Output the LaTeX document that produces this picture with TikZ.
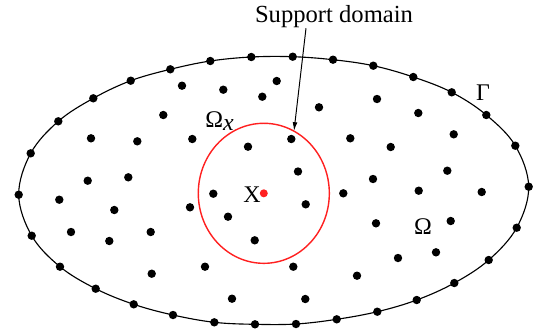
\documentclass[tikz,border=0pt]{standalone}
\usepackage{fontspec}
\setmainfont{Liberation Serif}
\usetikzlibrary{arrows.meta,calc}
\definecolor{Ink}{HTML}{000000}
\definecolor{DomainRed}{HTML}{FF2020}

\begin{document}
\begin{tikzpicture}[x=0.025cm,y=-0.025cm,every node/.style={font=\fontsize{17}{19}\selectfont,text=Ink,inner sep=0pt},arrow/.style={-{Latex[length=2.2mm,width=1.2mm]},line width=0.7pt,draw=Ink},boundary/.style={line width=0.8pt,draw=Ink},support/.style={line width=1pt,draw=DomainRed}]
\useasboundingbox (0,0) rectangle (536,331);
\fill[white] (0,0) rectangle (536,331);

% global domain and its boundary nodes
\draw[boundary] plot[smooth cycle,tension=0.6] coordinates {(18.7,194.7) (30.7,153.3) (58.3,121.3) (93.3,98.3) (130.7,80.7) (170.3,69.3) (210.3,61) (251.3,57) (292.7,56.7) (333,59.7) (373.3,65.7) (413.3,77) (451.7,92.3) (486.3,115) (515.3,145.7) (528.7,186.7) (516.7,227.7) (488.7,260) (454.3,283) (416.7,300) (377.3,311.7) (336.7,319.3) (296,324) (255,324.3) (214.3,322.3) (173,315) (133.7,304.3) (95.7,288.7) (60,266.7) (31.7,235.7)};
\foreach \p in {(18.7,194.7),(30.7,153.3),(58.3,121.3),(93.3,98.3),(130.7,80.7),(170.3,69.3),(210.3,61),(251.3,57),(292.7,56.7),(333,59.7),(373.3,65.7),(413.3,77),(451.7,92.3),(486.3,115),(515.3,145.7),(528.7,186.7),(516.7,227.7),(488.7,260),(454.3,283),(416.7,300),(377.3,311.7),(336.7,319.3),(296,324),(255,324.3),(214.3,322.3),(173,315),(133.7,304.3),(95.7,288.7),(60,266.7),(31.7,235.7)}
  \fill[Ink] \p circle (0.105cm);

% field nodes
\foreach \p in {(182,85.7),(223.3,89.7),(262.3,96.7),(276.7,81),(319,107.3),(377,99),(418.3,113),(453.7,134.3),(350.3,138.3),(390.7,147),(291.3,139),(163.3,115),(91,138.3),(137.3,141.3),(192.3,139),(248,146.7),(298,171.5),(87.7,180.7),(128.3,177.3),(59.3,199.7),(114.3,210),(190,207.3),(213.3,193.7),(228,216.7),(71,232),(109.3,241),(150.7,232),(254.7,240.3),(205,266.7),(151.7,273.7),(232,298.7),(305.7,204.3),(343.3,193.3),(373,179),(418.7,190.7),(447.3,170.7),(481.7,192),(376,223.3),(450.7,221),(436,252.3),(398,258),(357,275.7),(293.3,266.7),(305.3,299)}
  \fill[Ink] \p circle (0.105cm);

% support domain of point x
\coordinate (xc) at (263.8,193.3);
\draw[support] (xc) ellipse [x radius=1.6375cm,y radius=1.75cm];
\fill[DomainRed] (xc) circle (0.1cm);
\coordinate (tip) at (294,131);

\node[font=\fontsize{17.5}{20}\selectfont,anchor=base] (sd) at (334,22.7) {Support domain};
\draw[arrow] ($(sd.south)+(-28,0)$) -- (tip);
\node (omx) at (219.5,121) {Ω\raisebox{-0.3ex}{\textit{x}}};
\node (gam) at (483,93) {Γ};
\node (om) at (423,227) {Ω};
\node (xl) at (252,195) {X};

\end{tikzpicture}
\end{document}
